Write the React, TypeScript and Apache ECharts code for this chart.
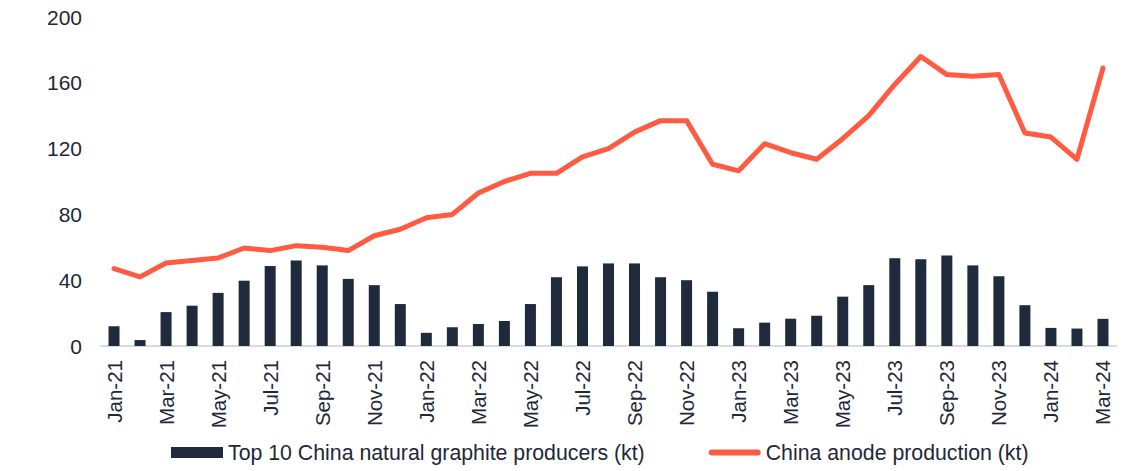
import React, { useEffect, useRef } from "react";
import * as echarts from "echarts";

const months = [
  "Jan-21","Feb-21","Mar-21","Apr-21","May-21","Jun-21","Jul-21","Aug-21","Sep-21","Oct-21","Nov-21","Dec-21",
  "Jan-22","Feb-22","Mar-22","Apr-22","May-22","Jun-22","Jul-22","Aug-22","Sep-22","Oct-22","Nov-22","Dec-22",
  "Jan-23","Feb-23","Mar-23","Apr-23","May-23","Jun-23","Jul-23","Aug-23","Sep-23","Oct-23","Nov-23","Dec-23",
  "Jan-24","Feb-24","Mar-24",
];

const graphiteProducers = [
  12, 3.6, 20.6, 24.5, 32.3, 39.7, 48.6, 52, 49, 40.8, 37, 25.5,
  8, 11.4, 13.4, 15.2, 25.5, 41.8, 48.4, 50.2, 50.2, 41.8, 40, 33,
  10.8, 14.2, 16.6, 18.4, 30, 37, 53.3, 52.7, 55, 49, 42.4, 24.8,
  11, 10.6, 16.5,
];

const anodeProduction = [
  47, 42, 50.5, 52, 53.5, 59.6, 58, 61, 60, 58, 67, 71,
  78, 80, 93, 100, 105, 105, 115, 120, 130, 137, 137, 110.5,
  106.5, 123, 117.5, 113.5, 126, 140, 159, 176, 165, 164, 165, 129.5,
  127, 113.5, 169,
];

const yTicks = { min: 0, max: 200, interval: 40 };

const BAR_NAME = "Top 10 China natural graphite producers (kt)";
const LINE_NAME = "China anode production (kt)";

const TEXT = "#1e2838";
const BAR_COLOR = "#1f2a3c";
const LINE_COLOR = "#ff5a42";
const FONT = "Liberation Sans, Arial, sans-serif";

export default function App() {
  const ref = useRef<HTMLDivElement>(null);
  useEffect(() => {
    document.body.style.margin = "0";
    if (!ref.current) return;
    const chart = echarts.init(ref.current, undefined, { renderer: "svg" });
    chart.setOption({
      animation: false,
      textStyle: { fontFamily: FONT, color: TEXT },
      grid: { left: 101, right: 12, top: 17, bottom: 125, containLabel: false },
      legend: {
        left: 171,
        top: 442,
        padding: 0,
        itemWidth: 52,
        itemHeight: 11,
        itemGap: 64,
        textStyle: { fontFamily: FONT, fontSize: 21.3, color: TEXT },
        data: [
          { name: BAR_NAME, icon: "rect", itemStyle: { color: BAR_COLOR } },
          {
            name: LINE_NAME,
            icon: "path://M3,0 L49,0 A3,3 0 0 1 49,6 L3,6 A3,3 0 0 1 3,0 Z",
            itemStyle: { color: LINE_COLOR, borderWidth: 0 },
          },
        ],
      },
      xAxis: {
        type: "category",
        data: months,
        boundaryGap: true,
        axisLine: { lineStyle: { color: "#d5dae4", width: 2 } },
        axisTick: { show: false },
        axisLabel: {
          interval: 1,
          rotate: 90,
          fontSize: 20.5,
          fontFamily: FONT,
          color: TEXT,
          margin: 14,
        },
      },
      yAxis: {
        type: "value",
        min: yTicks.min,
        max: yTicks.max,
        interval: yTicks.interval,
        splitLine: { show: false },
        axisLine: { show: false },
        axisTick: { show: false },
        axisLabel: { fontSize: 21, fontFamily: FONT, color: TEXT, margin: 19 },
      },
      series: [
        {
          name: BAR_NAME,
          type: "bar",
          data: graphiteProducers,
          barWidth: 11,
          itemStyle: { color: BAR_COLOR },
        },
        {
          name: LINE_NAME,
          type: "line",
          data: anodeProduction,
          symbol: "none",
          lineStyle: { color: LINE_COLOR, width: 5, cap: "round", join: "round" },
          itemStyle: { color: LINE_COLOR },
        },
      ],
    });
    return () => chart.dispose();
  }, []);
  return <div ref={ref} style={{ width: 1128, height: 471 }} />;
}
